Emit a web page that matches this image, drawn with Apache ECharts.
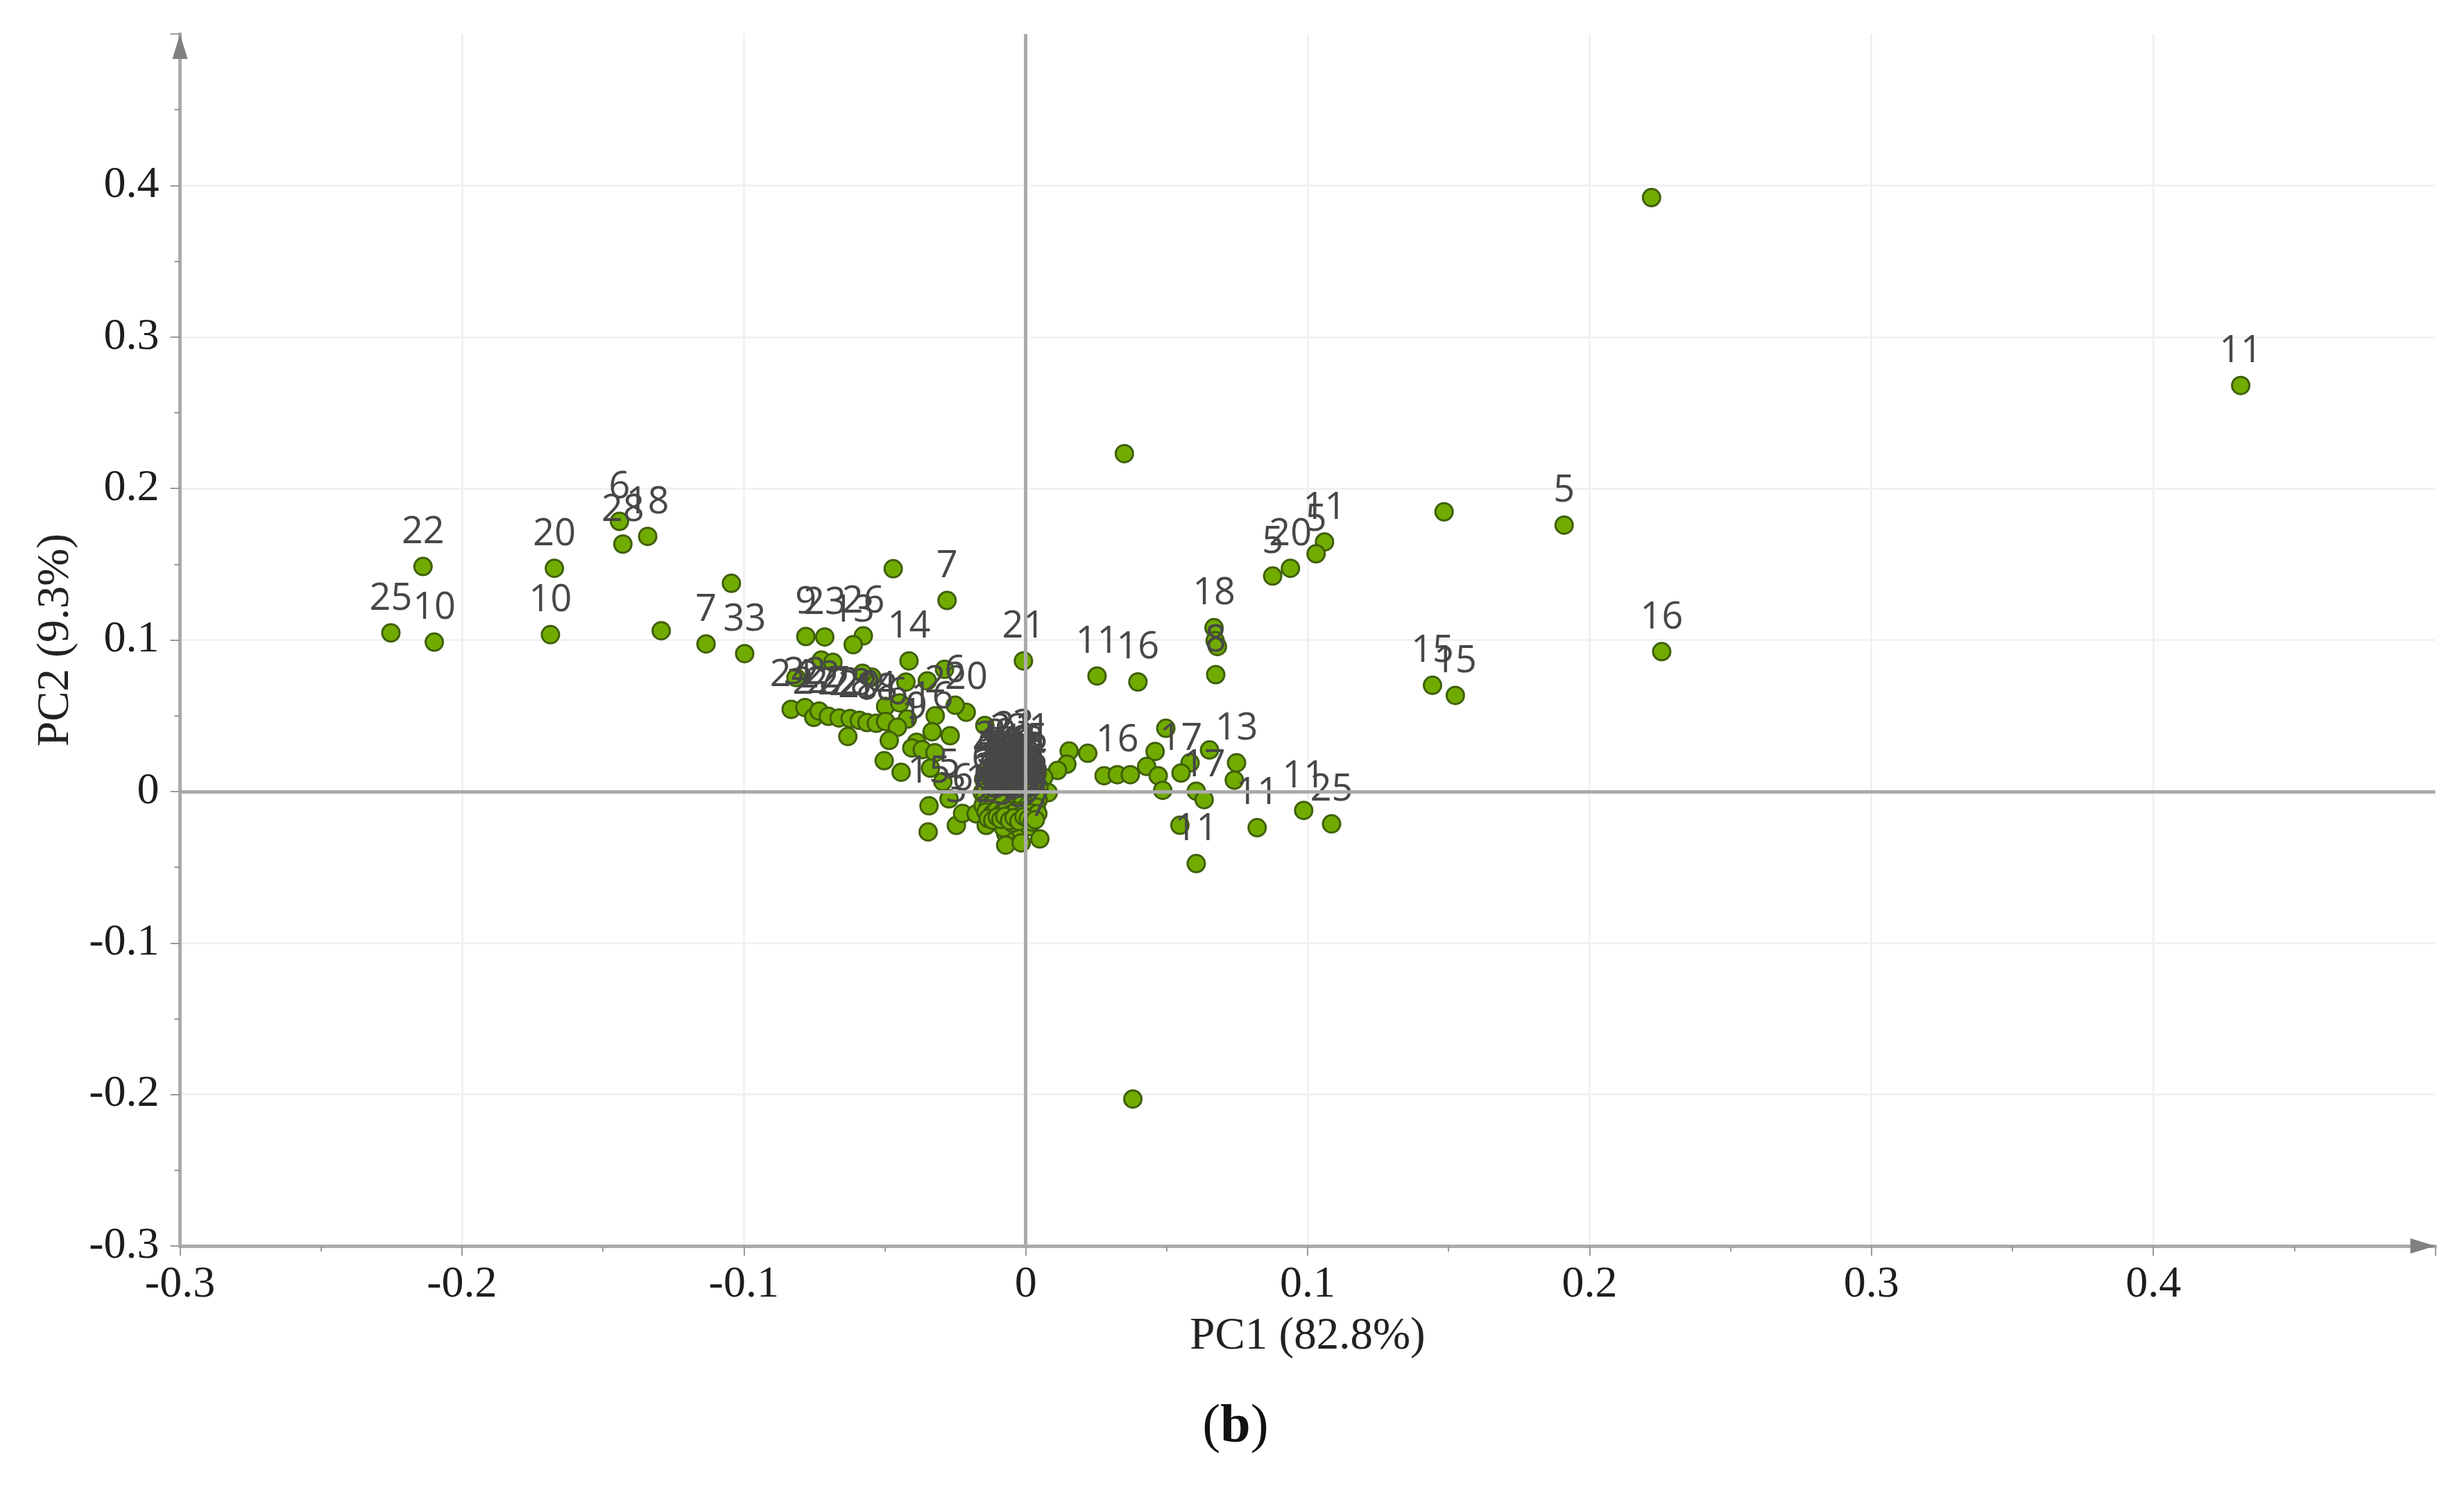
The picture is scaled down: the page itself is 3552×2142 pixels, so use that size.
<!DOCTYPE html>
<html>
<head>
<meta charset="utf-8">
<style>html,body{margin:0;padding:0;background:#fff}#c{width:3552px;height:2142px}</style>
<script src="https://cdn.jsdelivr.net/npm/echarts@6/dist/echarts.min.js"></script>
</head>
<body>
<div id="c"></div>
<script>
// Every line of pc1, pc2 and ids holds one and the same group of points.
const pc1 = [
  0.431, 0.222, 0.035, 0.038, 0.191, 0.1484, 0.2256, 0.1443, 0.1524,
  0.106, 0.103, 0.0939, 0.0876, 0.0668, 0.0672, 0.068, 0.0674, 0.0253, 0.0398,
  -0.0008, -0.0279, -0.0414, -0.047, -0.0576, -0.0612, -0.0713, -0.078, -0.0997, -0.1134,
  -0.1044, -0.1293, -0.1341, -0.1429, -0.1441, -0.1672, -0.1686, -0.2098, -0.2138, -0.2252,
  -0.0725, -0.0684, -0.0815, -0.0546, -0.0579, -0.0425, -0.0349, -0.0288, -0.0497, -0.0447,
  -0.0211, -0.025, -0.0321, -0.042, -0.0145, -0.0832, -0.0783, -0.0752, -0.0733, -0.07,
  -0.0662, -0.0623, -0.059, -0.0563, -0.053, -0.0497, -0.0455, -0.0631, -0.0484, -0.0332,
  -0.0268, -0.0387, -0.0404, -0.0367, -0.0322, -0.0502, -0.0442, -0.0338, -0.0294, -0.0272,
  -0.0343, -0.0346, -0.0246, -0.0224, -0.0176, -0.014, -0.0118, -0.0071, -0.0071, -0.0019,
  -0.0016, 0.0014, 0.005, -0.0107, -0.0079, -0.0047, 0.0154, 0.022, 0.0146, 0.0113,
  0.0064, 0.008, 0.003, 0.0278, 0.0325, 0.0371, 0.0497, 0.0459, 0.0429, 0.047,
  0.0486, 0.0652, 0.0583, 0.0551, 0.0748, 0.074, 0.0605, 0.0633, 0.0547, 0.0821,
  0.0986, 0.1085, 0.0605,
  -0.0142, -0.0121, -0.0108, -0.0089, -0.0071, -0.0058, -0.0039, -0.0022, -0.0008, 0.0011, 0.0028, 0.0041,
  -0.0149, -0.0131, -0.0112, -0.0098, -0.0079, -0.0061, -0.0048, -0.0029, -0.0012, 0.0004, 0.0019, 0.0036,
  -0.0138, -0.0124, -0.0103, -0.0084, -0.0069, -0.0052, -0.0033, -0.0018, 0.0002, 0.0016, 0.0031, 0.0047,
  -0.0154, -0.0129, -0.0116, -0.0094, -0.0076, -0.0063, -0.0044, -0.0026, -0.0009, 0.0007, 0.0024, 0.0039,
  -0.0146, -0.0127, -0.0106, -0.0091, -0.0073, -0.0056, -0.0037, -0.0021, -0.0004, 0.0013, 0.0027, 0.0044,
  -0.0151, -0.0134, -0.0113, -0.0096, -0.0081, -0.0059, -0.0046, -0.0028, -0.0011, 0.0006, 0.0021, 0.0037,
  -0.0141, -0.0119, -0.0104, -0.0086, -0.0068, -0.0054, -0.0035, -0.0016, 0.0001, 0.0018, 0.0033, 0.0043,
  -0.0133, -0.0117, -0.0101, -0.0088, -0.0074, -0.0057, -0.0041, -0.0024, -0.0006, 0.0009, 0.0022, 0.0034
];
const pc2 = [
  0.268, 0.392, 0.223, -0.203, 0.1758, 0.1846, 0.0923, 0.0701, 0.0634,
  0.1647, 0.1569, 0.1473, 0.1422, 0.1081, 0.0995, 0.0957, 0.0771, 0.0762, 0.0723,
  0.0862, 0.1261, 0.0862, 0.147, 0.1027, 0.0969, 0.102, 0.1023, 0.091, 0.0974,
  0.1374, 0.1061, 0.1684, 0.1633, 0.1783, 0.1473, 0.1035, 0.0986, 0.1485, 0.1047,
  0.0867, 0.0852, 0.0752, 0.0755, 0.078, 0.0722, 0.073, 0.0806, 0.0562, 0.0585,
  0.0523, 0.0569, 0.05, 0.0478, 0.0436, 0.0542, 0.0554, 0.0489, 0.0531, 0.0496,
  0.0485, 0.0481, 0.047, 0.0455, 0.045, 0.0462, 0.0424, 0.0363, 0.0337, 0.0394,
  0.0368, 0.0325, 0.0287, 0.0276, 0.0256, 0.0203, 0.0127, 0.0154, 0.0065, -0.0049,
  -0.0095, -0.0267, -0.0224, -0.0145, -0.0148, -0.0224, -0.0145, -0.0278, -0.0354, -0.0255,
  -0.0339, -0.0232, -0.0313, -0.0194, -0.024, -0.0209, 0.0267, 0.0252, 0.018, 0.0139,
  0.0093, -0.0008, 0.002, 0.0104, 0.0111, 0.0111, 0.0417, 0.0264, 0.0165, 0.0104,
  0.0008, 0.0274, 0.0189, 0.0122, 0.0189, 0.0075, 0.0002, -0.0054, -0.0223, -0.0239,
  -0.0125, -0.0214, -0.0476,
  0.0132, 0.0111, 0.0148, 0.0183, 0.0154, 0.0116, 0.0199, 0.0108, 0.0211, 0.0186, 0.0103, 0.0119,
  0.0082, 0.0068, 0.0091, 0.0074, 0.0097, 0.0066, 0.0088, 0.0062, 0.0093, 0.0077, 0.0059, 0.0071,
  0.0038, 0.0026, 0.0047, 0.0031, 0.0052, 0.0023, 0.0043, 0.0019, 0.0049, 0.0034, 0.0016, 0.0028,
  -0.0008, -0.0019, 0.0003, -0.0014, 0.0008, -0.0022, -0.0001, -0.0026, 0.0005, -0.0011, -0.0029, -0.0017,
  -0.0048, -0.0062, -0.0039, -0.0054, -0.0034, -0.0065, -0.0043, -0.0069, -0.0037, -0.0052, -0.0071, -0.0057,
  -0.0092, -0.0104, -0.0083, -0.0099, -0.0078, -0.0107, -0.0087, -0.0112, -0.0081, -0.0096, -0.0115, -0.0102,
  -0.0136, -0.0148, -0.0127, -0.0143, -0.0122, -0.0151, -0.0131, -0.0156, -0.0125, -0.0141, -0.0159, -0.0146,
  -0.0178, -0.0189, -0.0168, -0.0184, -0.0164, -0.0193, -0.0173, -0.0197, -0.0166, -0.0182, -0.0201, -0.0187
];
const ids = [
  '11', '', '', '', '5', '', '16', '15', '15',
  '11', '5', '20', '5', '18', '', '', '8', '11', '16',
  '21', '7', '14', '', '26', '13', '23', '9', '33', '7',
  '', '', '18', '28', '6', '20', '10', '10', '22', '25',
  '', '', '', '', '', '', '', '', '', '',
  '20', '6', '2', '', '', '24', '32', '27', '22', '27',
  '22', '28', '29', '8', '18', '4', '6', '', '', '16',
  '', '9', '1', '', '', '', '', '', '', '5',
  '15', '', '3', '6', '1', '2', '4', '', '', '3',
  '', '9', '7', '8', '5', '9', '', '', '', '',
  '', '', '', '', '16', '', '', '', '', '',
  '', '', '', '17', '13', '', '', '17', '', '11',
  '11', '25', '11',
  '3', '1', '8', '2', '9', '4', '21', '6', '3', '21', '8', '5',
  '4', '7', '2', '5', '6', '1', '8', '3', '9', '2', '6', '4',
  '5', '3', '9', '1', '7', '2', '4', '8', '5', '6', '3', '1',
  '6', '2', '8', '4', '3', '7', '1', '9', '5', '2', '8', '6',
  '3', '9', '5', '7', '2', '6', '8', '4', '1', '3', '9', '5',
  '2', '4', '1', '6', '8', '3', '5', '7', '2', '9', '4', '6',
  '8', '5', '3', '2', '4', '9', '6', '1', '7', '8', '5', '3',
  '1', '6', '4', '9', '5', '8', '2', '3', '6', '4', '7', '9'
];
const xTicks = [-0.3, -0.2, -0.1, 0, 0.1, 0.2, 0.3, 0.4];
const yTicks = [-0.3, -0.2, -0.1, 0, 0.1, 0.2, 0.3, 0.4];
const xTitle = 'PC1 (82.8%)';
const yTitle = 'PC2 (9.3%)';
const caption = 'b';

const serif = '"Liberation Serif","Times New Roman",serif';
const axisColor = '#ababab';
const tickLabel = (v, list) => {
  const hit = list.find(t => Math.abs(t - v) < 1e-9);
  return hit === undefined ? '' : (hit === 0 ? '0' : String(hit));
};
const axisBase = (list) => ({
  type: 'value',
  min: -0.3,
  max: 0.5,
  interval: 0.1,
  nameLocation: 'middle',
  nameTextStyle: { fontFamily: serif, fontSize: 65, color: '#222' },
  axisLine: {
    show: true,
    onZero: false,
    lineStyle: { color: axisColor, width: 5 }
  },
  axisTick: { show: true, length: 14, lineStyle: { color: '#999', width: 2 } },
  minorTick: { show: true, splitNumber: 2, length: 8, lineStyle: { color: '#999', width: 2 } },
  splitLine: { show: true, showMinLine: false, showMaxLine: false, lineStyle: { color: '#f1f1f1', width: 3 } },
  minorSplitLine: { show: false },
  axisLabel: {
    fontFamily: serif, fontSize: 64, color: '#1d1d1d',
    showMaxLabel: false,
    formatter: v => tickLabel(v, list)
  }
});

const chart = echarts.init(document.getElementById('c'), null, { renderer: 'canvas' });
chart.setOption({
  animation: false,
  backgroundColor: '#fff',
  title: {
    text: '{p|(}{b|' + caption + '}{p|)}',
    left: 1776,
    top: 2014,
    textAlign: 'center',
    textStyle: {
      fontWeight: 'normal',
      rich: {
        p: { fontFamily: serif, fontSize: 78, fontWeight: 'normal', color: '#111' },
        b: { fontFamily: serif, fontSize: 78, fontWeight: 'bold', color: '#111' }
      }
    }
  },
  grid: { left: 259.5, right: 41.5, top: 49, bottom: 346, containLabel: false },
  xAxis: Object.assign(axisBase(xTicks), { name: xTitle, nameGap: 98, axisLabel: Object.assign(axisBase(xTicks).axisLabel, { margin: 24 }) }),
  yAxis: Object.assign(axisBase(yTicks), { name: yTitle, nameGap: 146, axisLabel: Object.assign(axisBase(yTicks).axisLabel, { margin: 30 }) }),
  series: [{
    type: 'scatter',
    symbol: 'circle',
    symbolSize: 25,
    itemStyle: { color: '#71ab00', borderColor: '#3f5f0a', borderWidth: 3, opacity: 1 },
    label: {
      show: true,
      position: 'top',
      distance: 8,
      fontFamily: '"Open Sans",sans-serif',
      fontSize: 54,
      color: '#474747',
      formatter: p => p.data[2]
    },
    emphasis: { disabled: true },
    markLine: {
      silent: true,
      symbol: 'none',
      label: { show: false },
      lineStyle: { color: axisColor, width: 5, type: 'solid' },
      data: [{ xAxis: 0 }, { yAxis: 0 }]
    },
    markPoint: {
      silent: true,
      symbol: 'triangle',
      symbolSize: [22, 36],
      label: { show: false },
      itemStyle: { color: '#808080' },
      data: [
        { coord: [-0.3, 0.4918], symbolRotate: 0 },
        { coord: [0.4956, -0.3], symbolRotate: -90 }
      ]
    },
    data: pc1.map((x, i) => [x, pc2[i], ids[i]])
  }]
});
</script>
</body>
</html>
